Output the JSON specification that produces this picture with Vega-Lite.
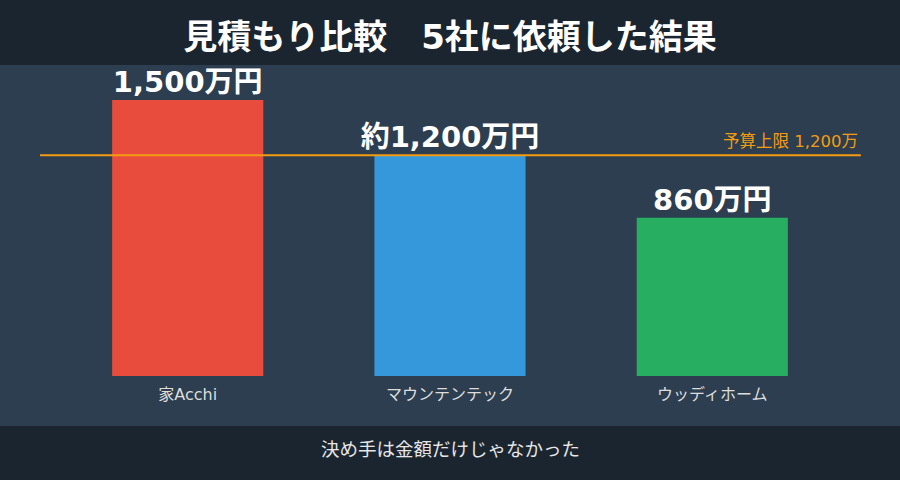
{
  "$schema": "https://vega.github.io/schema/vega-lite/v6.json",
  "width": 900,
  "height": 361,
  "autosize": {"type": "none"},
  "padding": {"top": 65, "bottom": 54, "left": 0, "right": 0},
  "background": "#1b2530",
  "title": {
    "text": "見積もり比較　5社に依頼した結果",
    "font": "DejaVu Sans, Noto Sans CJK JP",
    "fontSize": 34,
    "fontWeight": "bold",
    "color": "#ffffff",
    "anchor": "middle",
    "offset": 9
  },
  "config": {
    "view": {"fill": "#2c3e50", "stroke": null},
    "font": "DejaVu Sans, Noto Sans CJK JP"
  },
  "data": {
    "values": [
      {"company": "家Acchi", "cost": 1500, "label": "1,500万円"},
      {"company": "マウンテンテック", "cost": 1200, "label": "約1,200万円"},
      {"company": "ウッディホーム", "cost": 860, "label": "860万円"}
    ]
  },
  "encoding": {
    "x": {
      "field": "company",
      "type": "nominal",
      "sort": null,
      "scale": {"paddingInner": 0.4237, "paddingOuter": 0.4275},
      "axis": {
        "title": "決め手は金額だけじゃなかった",
        "titleColor": "#e6e6e6",
        "titleFontSize": 18.5,
        "titleFontWeight": "normal",
        "titlePadding": 38,
        "labelColor": "#dddddd",
        "labelFontSize": 16,
        "labelAngle": 0,
        "labelPadding": 10,
        "domain": false,
        "ticks": false,
        "grid": false,
        "offset": -50
      }
    },
    "y": {
      "field": "cost",
      "type": "quantitative",
      "scale": {"domain": [-271.7, 1690.3], "nice": false},
      "axis": null
    }
  },
  "layer": [
    {
      "mark": {"type": "bar"},
      "encoding": {
        "y2": {"datum": 0},
        "color": {
          "field": "company",
          "type": "nominal",
          "scale": {
            "domain": ["家Acchi", "マウンテンテック", "ウッディホーム"],
            "range": ["#e74c3c", "#3498db", "#27ae60"]
          },
          "legend": null
        }
      }
    },
    {
      "data": {"values": [{"budget": 1200, "note": "予算上限 1,200万"}]},
      "mark": {"type": "rule", "color": "#f39c12", "strokeWidth": 2},
      "encoding": {
        "x": {"datum": "家Acchi", "bandPosition": -0.477},
        "x2": {"datum": "ウッディホーム", "bandPosition": 1.483},
        "y": {"field": "budget", "type": "quantitative"}
      }
    },
    {
      "data": {"values": [{"budget": 1200, "note": "予算上限 1,200万"}]},
      "mark": {"type": "text", "color": "#f39c12", "fontSize": 16.5, "align": "right", "baseline": "bottom", "dy": -5, "dx": -3},
      "encoding": {
        "x": {"datum": "ウッディホーム", "bandPosition": 1.483},
        "y": {"field": "budget", "type": "quantitative"},
        "text": {"field": "note"}
      }
    },
    {
      "mark": {"type": "text", "color": "#ffffff", "fontSize": 29, "fontWeight": "bold", "baseline": "bottom", "dy": -2},
      "encoding": {
        "text": {"field": "label"}
      }
    }
  ]
}
